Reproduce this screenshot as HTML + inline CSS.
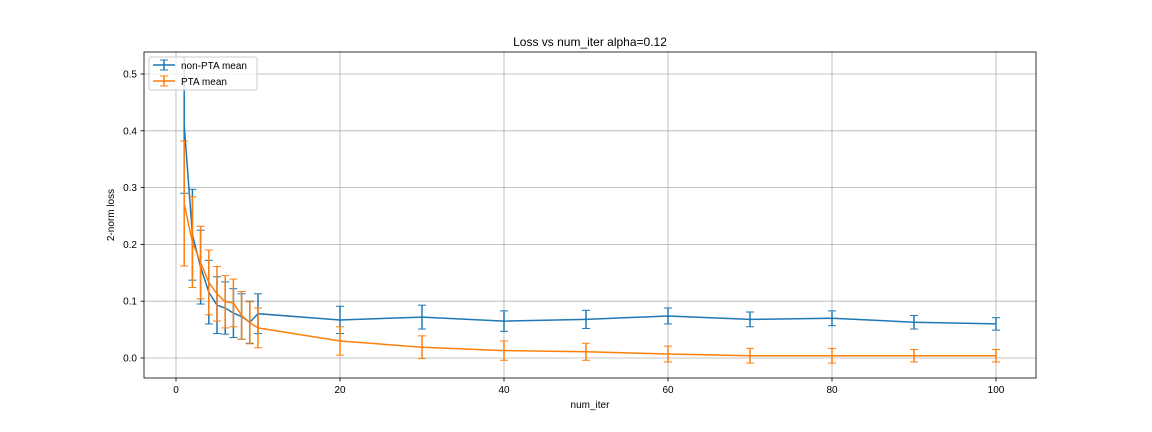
<!DOCTYPE html>
<html><head><meta charset="utf-8"><style>
body{margin:0;background:#fff;}
svg{display:block;font-family:"Liberation Sans","DejaVu Sans",sans-serif;}
</style></head><body>
<svg id="chart" width="1152" height="432">
<text x="590" y="46" font-size="12" text-anchor="middle">Loss vs num_iter alpha=0.12</text>
<g id="grid"></g><g id="ticks"></g><g id="series"></g>
<rect x="144" y="52" width="892" height="326" fill="none" stroke="#000" stroke-width="0.8"/>
<text x="590" y="408" font-size="10" text-anchor="middle">num_iter</text>
<text x="114" y="215" font-size="10" text-anchor="middle" transform="rotate(-90 114 215)">2-norm loss</text>
<g>
<rect x="149" y="57" width="108" height="33" rx="2" fill="#fff" fill-opacity="0.8" stroke="#ccc"/>
<g>
<line x1="153" y1="65" x2="175" y2="65" stroke="#1f77b4" stroke-width="1.5"/><line x1="164" y1="60" x2="164" y2="70" stroke="#1f77b4" stroke-width="1.5"/><line x1="160" y1="60" x2="168" y2="60" stroke="#1f77b4"/><line x1="160" y1="70" x2="168" y2="70" stroke="#1f77b4"/>
<text x="181" y="69" font-size="10">non-PTA mean</text></g>
<g>
<line x1="153" y1="81" x2="175" y2="81" stroke="#ff7f0e" stroke-width="1.5"/><line x1="164" y1="76" x2="164" y2="86" stroke="#ff7f0e" stroke-width="1.5"/><line x1="160" y1="76" x2="168" y2="76" stroke="#ff7f0e"/><line x1="160" y1="86" x2="168" y2="86" stroke="#ff7f0e"/>
<text x="181" y="85" font-size="10">PTA mean</text></g>
</g>
</svg>
<script>
const xs=[1,2,3,4,5,6,7,8,9,10,20,30,40,50,60,70,80,90,100];
const blueMean=[0.41,0.217,0.16,0.116,0.093,0.088,0.079,0.073,0.063,0.078,0.067,0.072,0.065,0.068,0.074,0.068,0.070,0.063,0.060];
const blueErr=[0.12,0.08,0.065,0.056,0.05,0.046,0.043,0.04,0.037,0.035,0.024,0.021,0.018,0.016,0.014,0.013,0.013,0.012,0.011];
const orangeMean=[0.272,0.204,0.168,0.133,0.113,0.099,0.097,0.075,0.062,0.053,0.030,0.019,0.013,0.011,0.007,0.004,0.004,0.004,0.004];
const orangeErr=[0.11,0.08,0.064,0.057,0.048,0.046,0.042,0.042,0.037,0.035,0.025,0.02,0.017,0.015,0.014,0.013,0.013,0.011,0.011];
const xTicks=[0,20,40,60,80,100];
const yTicks=[0,0.1,0.2,0.3,0.4,0.5];
const NS='http://www.w3.org/2000/svg';
const X=v=>176+v*8.2, Y=v=>358-v*568;
function mk(tag,attrs,parent){const e=document.createElementNS(NS,tag);for(const k in attrs)e.setAttribute(k,attrs[k]);parent.appendChild(e);return e;}
const grid=document.getElementById('grid'),ticks=document.getElementById('ticks'),ser=document.getElementById('series');
xTicks.forEach(t=>{
 const g=mk('line',{x1:X(t),x2:X(t),y1:52,y2:378,stroke:'#b0b0b0','stroke-width':0.8},grid);
 
 
 mk('line',{x1:X(t),x2:X(t),y1:378,y2:381.5,stroke:'#000','stroke-width':0.8},ticks);
 const tx=mk('text',{x:X(t),y:393,'font-size':10,'text-anchor':'middle'},ticks);tx.textContent=t;
 
 
});
yTicks.forEach(t=>{
 const g=mk('line',{x1:144,x2:1036,y1:Y(t),y2:Y(t),stroke:'#b0b0b0','stroke-width':0.8},grid);
 
 
 mk('line',{x1:140.5,x2:144,y1:Y(t),y2:Y(t),stroke:'#000','stroke-width':0.8},ticks);
 const tx=mk('text',{x:137,y:Y(t)+3.5,'font-size':10,'text-anchor':'end'},ticks);tx.textContent=t.toFixed(1);
 
 
});
function series(mean,err,color,name){
 const g=mk('g',{},ser);
 
 
 const clip=v=>Math.max(52,Math.min(378,v));
 xs.forEach((x,i)=>{
  const t=clip(Y(mean[i]+err[i])),b=clip(Y(mean[i]-err[i]));
  const e=mk('line',{x1:X(x),x2:X(x),y1:t,y2:b,stroke:color,'stroke-width':1.5},g);
  
  
  if(t>52)mk('line',{x1:X(x)-4,x2:X(x)+4,y1:t,y2:t,stroke:color,'stroke-width':1},g);
  mk('line',{x1:X(x)-4,x2:X(x)+4,y1:b,y2:b,stroke:color,'stroke-width':1},g);
 });
 const p=mk('polyline',{points:xs.map((x,i)=>X(x)+','+Y(mean[i])).join(' '),fill:'none',stroke:color,'stroke-width':1.5},g);
 
 
}
series(blueMean,blueErr,'#1f77b4','non-pta-series');
series(orangeMean,orangeErr,'#ff7f0e','pta-series');
</script>
</body></html>
